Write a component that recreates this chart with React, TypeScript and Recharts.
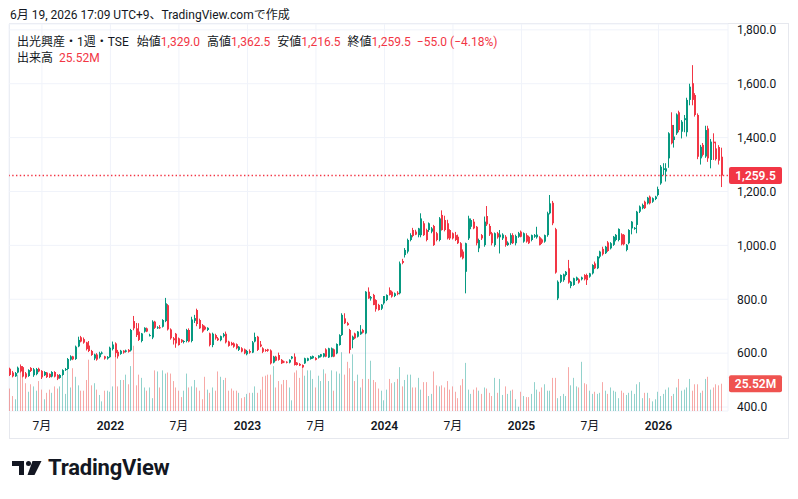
import { ComposedChart, Bar, XAxis, YAxis, CartesianGrid, ReferenceLine } from 'recharts';

// one row per week: open, high, low, close, volume (millions)
type Week = [number, number, number, number, number];

const WEEKS_2021: Week[] = [
  [542, 546, 515, 519, 21], [528, 534, 510, 514, 14], [514, 530, 512, 526, 11], [528, 550, 525, 546, 34],
  [552, 558, 528, 532, 38], [548, 552, 510, 513, 32], [525, 530, 505, 510, 26], [515, 540, 512, 537, 18],
  [545, 548, 530, 534, 25], [518, 545, 512, 540, 23], [522, 545, 518, 541, 19], [542, 546, 529, 532, 28],
  [534, 537, 504, 510, 20], [518, 533, 515, 530, 11], [528, 530, 508, 511, 17], [523, 525, 508, 511, 20],
  [513, 533, 510, 530, 17], [530, 533, 510, 513, 23], [519, 522, 500, 505, 21], [508, 522, 505, 519, 23],
  [519, 540, 516, 537, 38], [537, 545, 534, 541, 16], [541, 582, 538, 578, 40], [576, 592, 572, 588, 22],
  [588, 590, 574, 577, 40], [578, 628, 575, 624, 32], [625, 661, 622, 649, 24], [659, 664, 640, 643, 19],
  [652, 658, 635, 639, 19], [640, 642, 610, 615, 29], [628, 645, 604, 608, 48], [608, 612, 590, 593, 24],
  [580, 598, 574, 595, 26], [595, 600, 572, 576, 20], [585, 605, 580, 600, 15], [598, 606, 595, 602, 9],
  [588, 590, 576, 580, 19], [580, 589, 576, 586, 19],
];

const WEEKS_2022: Week[] = [
  [585, 624, 583, 620, 18], [615, 643, 610, 632, 23], [636, 640, 585, 600, 55], [605, 612, 580, 588, 23],
  [597, 612, 594, 609, 29], [609, 611, 598, 602, 29], [605, 613, 602, 610, 34], [612, 615, 602, 605, 25],
  [610, 690, 606, 686, 42], [719, 738, 685, 692, 61], [692, 712, 660, 667, 24], [680, 711, 645, 649, 34],
  [645, 675, 640, 673, 31], [680, 696, 676, 694, 22], [692, 695, 678, 680, 19], [667, 672, 662, 667, 22],
  [658, 722, 652, 717, 12], [717, 720, 690, 694, 38], [694, 700, 690, 696, 37], [696, 704, 690, 694, 22],
  [698, 726, 695, 723, 38], [719, 805, 715, 785, 35], [778, 782, 684, 688, 36], [688, 692, 650, 655, 35],
  [655, 660, 632, 648, 28], [672, 675, 620, 636, 22], [655, 658, 628, 630, 19], [650, 652, 638, 642, 13],
  [642, 648, 636, 645, 19], [645, 690, 640, 686, 35], [686, 692, 640, 643, 22], [645, 735, 640, 725, 23],
  [720, 742, 712, 730, 29], [760, 765, 700, 708, 22], [723, 728, 690, 692, 19], [704, 708, 676, 680, 11],
  [698, 702, 685, 688, 32], [686, 696, 682, 694, 20], [673, 676, 625, 630, 17], [630, 676, 622, 672, 22],
  [667, 672, 650, 655, 19], [655, 660, 645, 648, 37], [648, 665, 644, 663, 32], [663, 675, 658, 670, 29],
  [672, 680, 636, 640, 31], [643, 646, 624, 627, 19], [638, 642, 628, 630, 21], [636, 640, 620, 624, 19],
  [633, 636, 614, 618, 19], [612, 626, 608, 624, 17], [618, 622, 603, 606, 12], [614, 617, 596, 599, 13],
];

const WEEKS_2023: Week[] = [
  [596, 612, 592, 608, 16], [608, 614, 598, 602, 17], [602, 645, 600, 640, 17], [643, 676, 640, 660, 23],
  [661, 664, 608, 612, 17], [632, 645, 622, 625, 20], [618, 622, 600, 605, 32], [612, 615, 605, 608, 33],
  [614, 616, 605, 609, 34], [610, 614, 558, 562, 34], [565, 590, 562, 587, 42], [587, 590, 570, 572, 22],
  [593, 602, 572, 575, 28], [575, 578, 560, 562, 25], [569, 572, 563, 567, 29], [568, 570, 562, 565, 29],
  [565, 577, 562, 575, 22], [580, 589, 577, 587, 10], [587, 599, 554, 556, 36], [565, 567, 554, 556, 38],
  [560, 563, 552, 554, 31], [556, 558, 545, 547, 42], [562, 583, 560, 581, 33], [572, 583, 570, 581, 38],
  [578, 589, 576, 587, 38], [581, 591, 579, 589, 30], [582, 585, 573, 575, 22], [583, 592, 580, 591, 33],
  [587, 597, 584, 596, 28], [587, 600, 584, 599, 39], [614, 618, 585, 587, 35], [584, 620, 582, 618, 28],
  [587, 621, 585, 618, 38], [614, 617, 585, 587, 19], [599, 636, 596, 634, 37], [630, 670, 628, 667, 35],
  [667, 748, 664, 742, 55], [729, 748, 708, 711, 34], [711, 716, 702, 704, 46], [686, 690, 599, 612, 40],
  [649, 665, 618, 661, 53], [673, 676, 652, 655, 28], [661, 682, 658, 680, 34], [670, 704, 668, 680, 22],
  [686, 690, 673, 676, 30], [673, 830, 670, 828, 73], [828, 844, 802, 803, 30], [803, 812, 795, 808, 47],
  [816, 820, 778, 779, 29], [797, 800, 754, 763, 27], [779, 783, 758, 760, 21], [765, 782, 760, 780, 19],
];

const WEEKS_2024: Week[] = [
  [785, 812, 780, 812, 10], [797, 818, 793, 816, 20], [834, 844, 814, 816, 30], [828, 832, 806, 810, 26],
  [812, 825, 808, 822, 27], [824, 830, 815, 819, 30], [822, 940, 818, 933, 41], [942, 950, 930, 935, 23],
  [964, 990, 955, 983, 29], [977, 1025, 970, 1020, 34], [1020, 1045, 1015, 1038, 34], [1057, 1065, 1030, 1035, 22],
  [1051, 1058, 1038, 1040, 22], [1038, 1065, 1030, 1063, 31], [1038, 1119, 1030, 1100, 20], [1082, 1090, 1035, 1038, 27],
  [1057, 1062, 1015, 1020, 27], [1057, 1085, 1050, 1082, 14], [1051, 1068, 1045, 1063, 16], [1072, 1076, 998, 1001, 37],
  [1045, 1050, 1015, 1020, 24], [1020, 1105, 1015, 1100, 23], [1113, 1130, 1055, 1057, 24], [1094, 1110, 1052, 1057, 22],
  [1082, 1095, 1022, 1026, 28], [1057, 1060, 1020, 1026, 20], [1045, 1048, 1022, 1026, 23], [1038, 1050, 1016, 1020, 18],
  [1032, 1040, 1005, 1008, 12], [1008, 1012, 955, 958, 24], [977, 985, 948, 952, 30], [902, 1010, 822, 1008, 45],
  [1026, 1110, 1020, 1100, 20], [1069, 1100, 1060, 1094, 16], [1088, 1098, 1060, 1063, 20], [1069, 1072, 1000, 1008, 22],
  [989, 1025, 975, 1020, 19], [1038, 1042, 1020, 1026, 16], [1001, 1107, 995, 1088, 22], [1109, 1146, 1072, 1078, 21],
  [1072, 1080, 1035, 1041, 17], [1045, 1050, 1000, 1008, 14], [1001, 1048, 995, 1045, 31], [1045, 1050, 1025, 1030, 17],
  [1030, 1057, 970, 1040, 30], [1026, 1045, 1020, 1040, 15], [1032, 1038, 995, 1001, 23], [1001, 1015, 998, 1010, 16],
  [1008, 1045, 1002, 1038, 19], [1038, 1045, 1005, 1008, 20], [1008, 1040, 1000, 1035, 11], [1032, 1050, 1028, 1045, 4],
];

const WEEKS_2025: Week[] = [
  [1051, 1055, 1030, 1032, 18], [1014, 1048, 1010, 1045, 14], [1038, 1045, 1010, 1014, 13], [1032, 1036, 1005, 1008, 13],
  [1020, 1040, 1015, 1038, 16], [1032, 1042, 1028, 1038, 27], [1030, 1069, 1025, 1040, 20], [1030, 1034, 1000, 1001, 18],
  [1022, 1026, 1005, 1010, 22], [1014, 1040, 1010, 1038, 25], [1038, 1125, 1032, 1119, 19], [1119, 1187, 1115, 1156, 19],
  [1158, 1165, 1075, 1082, 31], [1060, 1065, 895, 899, 31], [803, 870, 797, 865, 12], [865, 892, 860, 890, 14],
  [871, 895, 865, 892, 16], [890, 905, 885, 902, 14], [915, 946, 858, 862, 41], [849, 868, 841, 865, 24],
  [853, 880, 850, 878, 31], [871, 884, 868, 881, 23], [874, 878, 858, 862, 22], [874, 884, 870, 881, 46],
  [890, 893, 870, 874, 26], [890, 895, 853, 871, 25], [884, 898, 880, 896, 19], [896, 930, 892, 927, 16],
  [933, 940, 912, 915, 18], [915, 960, 912, 958, 16], [958, 980, 952, 977, 17], [987, 995, 962, 967, 27],
  [971, 998, 968, 995, 19], [1011, 1016, 976, 979, 16], [989, 1012, 985, 1008, 22], [1002, 1035, 998, 1032, 19],
  [1020, 1042, 1015, 1039, 18], [1020, 1063, 1015, 1061, 12], [1041, 1045, 1000, 1004, 19], [1039, 1042, 1000, 1004, 17],
  [983, 1005, 978, 1002, 15], [1008, 1060, 1004, 1057, 17], [1063, 1090, 1041, 1088, 19], [1061, 1068, 1058, 1065, 16],
  [1076, 1128, 1045, 1125, 25], [1125, 1148, 1120, 1144, 27], [1138, 1155, 1134, 1150, 12], [1162, 1166, 1135, 1138, 17],
  [1156, 1180, 1152, 1177, 17], [1181, 1185, 1152, 1156, 12], [1162, 1178, 1158, 1175, 9], [1172, 1184, 1168, 1181, 11],
];

const WEEKS_2026: Week[] = [
  [1187, 1218, 1182, 1209, 18], [1230, 1298, 1225, 1292, 14], [1280, 1305, 1261, 1286, 16], [1274, 1305, 1237, 1286, 20],
  [1323, 1420, 1288, 1416, 22], [1447, 1494, 1375, 1379, 14], [1391, 1447, 1363, 1404, 16], [1416, 1490, 1410, 1486, 22],
  [1494, 1500, 1420, 1428, 30], [1422, 1465, 1397, 1459, 19], [1465, 1484, 1420, 1472, 20], [1420, 1548, 1404, 1540, 22],
  [1540, 1600, 1520, 1589, 30], [1602, 1669, 1520, 1540, 19], [1558, 1565, 1478, 1484, 25], [1484, 1490, 1320, 1329, 25],
  [1323, 1373, 1300, 1366, 17], [1373, 1380, 1330, 1336, 19], [1330, 1444, 1325, 1428, 30], [1434, 1444, 1310, 1323, 32],
  [1317, 1395, 1286, 1385, 20], [1385, 1416, 1317, 1379, 22], [1360, 1385, 1315, 1320, 25], [1365, 1372, 1300, 1314.5, 24],
  [1329, 1362.5, 1216.5, 1259.5, 25.52],
];

// week index of each time-axis label
const TICK_WEEKS = [12, 38, 64, 90, 116, 142, 168, 194, 220, 246];
const TICK_LABELS = ['7月', '2022', '7月', '2023', '7月', '2024', '7月', '2025', '7月', '2026'];
const PRICE_TICKS = [400, 600, 800, 1000, 1200, 1400, 1600, 1800];

const UP = '#089981';
const DOWN = '#F23645';
const UP_VOL = 'rgba(38,166,154,0.5)';
const DOWN_VOL = 'rgba(239,83,80,0.5)';
const TEXT = '#131722';
const FONT = 'Roboto, "Noto Sans CJK JP", sans-serif';

const rows = [...WEEKS_2021, ...WEEKS_2022, ...WEEKS_2023, ...WEEKS_2024, ...WEEKS_2025, ...WEEKS_2026].map(
  ([o, h, l, c, v], i) => ({ i, o, h, l, c, v, range: [l, h] })
);

const last = rows[rows.length - 1];
const prev = rows[rows.length - 2];
const change = last.c - prev.c;
const changePct = (change / prev.c) * 100;

const fmtPrice = (v: number) => v.toLocaleString('en-US', { minimumFractionDigits: 1, maximumFractionDigits: 1 });
const fmtSigned = (v: number, digits: number) => (v < 0 ? '\u2212' : '+') + Math.abs(v).toFixed(digits);

function CandleShape(props: any) {
  const { x, y, width, height, payload } = props;
  if (!payload) return null;
  const { o, h, l, c } = payload;
  const color = c >= o ? UP : DOWN;
  const toY = (v: number) => (h === l ? y : y + ((h - v) / (h - l)) * height);
  const left = Math.round(x + width / 2 - 1);
  const top = toY(Math.max(o, c));
  const bottom = toY(Math.min(o, c));
  return (
    <g>
      <rect x={left} y={y} width={1} height={Math.max(height, 1)} fill={color} />
      <rect x={left} y={top} width={2} height={Math.max(bottom - top, 1)} fill={color} />
    </g>
  );
}

function VolumeShape(props: any) {
  const { x, y, width, height, payload } = props;
  if (!payload) return null;
  const left = Math.round(x + width / 2 - 1);
  return <rect x={left} y={y} width={1} height={height} fill={payload.c >= payload.o ? UP_VOL : DOWN_VOL} />;
}

function TimeTick(props: any) {
  const { x, y, payload } = props;
  const label = TICK_LABELS[TICK_WEEKS.indexOf(Number(payload.value))];
  if (!label) return null;
  return (
    <text x={x} y={y} dy="0.71em" textAnchor="middle" fontSize={12} fontWeight={label.length === 4 ? 600 : 400} fill={TEXT}>
      {label}
    </text>
  );
}

function AxisTag(props: any) {
  const { viewBox, text, fill } = props;
  if (!viewBox) return null;
  const x = viewBox.x + viewBox.width + 1;
  const y = viewBox.y;
  return (
    <g>
      <rect x={x} y={y - 8.5} width={53} height={17} rx={2} fill={fill} />
      <text x={x + 26.5} y={y} dy="0.36em" textAnchor="middle" fontSize={12} fontWeight={600} fill="#ffffff">
        {text}
      </text>
    </g>
  );
}

export default function App() {
  const red = { color: DOWN };
  return (
    <div style={{ position: 'absolute', left: 0, top: 0, width: 798, height: 499, background: '#ffffff', fontFamily: FONT, color: TEXT, overflow: 'hidden' }}>
      <div style={{ position: 'absolute', left: 9, top: 23, width: 778, height: 414, border: '1px solid #e6e8ee' }} />
      <ComposedChart width={798} height={499} data={rows} margin={{ top: 24, right: 9, bottom: 58, left: 9 }} barCategoryGap="10%">
        <CartesianGrid xAxisId="main" yAxisId="price" stroke="#f0f3fa" />
        <XAxis
          xAxisId="main"
          dataKey="i"
          type="category"
          ticks={TICK_WEEKS}
          interval={0}
          tick={<TimeTick />}
          axisLine={false}
          tickLine={false}
          tickMargin={4}
          height={30}
          padding={{ left: 0, right: 5 }}
        />
        <XAxis xAxisId="vol" dataKey="i" type="category" hide padding={{ left: 0, right: 5 }} />
        <YAxis
          yAxisId="price"
          orientation="right"
          type="number"
          domain={[385.2, 1821.7]}
          allowDataOverflow
          ticks={PRICE_TICKS}
          interval={0}
          width={61}
          axisLine={false}
          tickLine={false}
          tickMargin={3}
          tick={{ fill: TEXT, fontSize: 12 }}
          tickFormatter={fmtPrice}
        />
        <YAxis yAxisId="vol" type="number" hide domain={[0, 362]} allowDataOverflow />
        <Bar xAxisId="vol" yAxisId="vol" dataKey="v" shape={<VolumeShape />} isAnimationActive={false} />
        <Bar xAxisId="main" yAxisId="price" dataKey="range" shape={<CandleShape />} isAnimationActive={false} />
        <ReferenceLine
          xAxisId="main"
          yAxisId="price"
          y={last.c}
          stroke={DOWN}
          strokeWidth={1.4}
          strokeDasharray="1.4 2.4"
          label={<AxisTag text={fmtPrice(last.c)} fill={DOWN} />}
        />
        <ReferenceLine
          xAxisId="vol"
          yAxisId="vol"
          y={last.v}
          stroke="none"
          label={<AxisTag text={`${last.v.toFixed(2)}M`} fill="#ef5350" />}
        />
      </ComposedChart>

      <div style={{ position: 'absolute', left: 10, top: 7, fontSize: 12, lineHeight: '16px', whiteSpace: 'nowrap' }}>
        6月 19, 2026 17:09 UTC+9、TradingView.comで作成
      </div>
      <div style={{ position: 'absolute', left: 17, top: 34, fontSize: 12, lineHeight: '16px', whiteSpace: 'nowrap' }}>
        <span>出光興産・1週・TSE</span>
        <span style={{ marginLeft: 8 }}>始値</span><span style={red}>{fmtPrice(last.o)}</span>
        <span style={{ marginLeft: 7 }}>高値</span><span style={red}>{fmtPrice(last.h)}</span>
        <span style={{ marginLeft: 7 }}>安値</span><span style={red}>{fmtPrice(last.l)}</span>
        <span style={{ marginLeft: 7 }}>終値</span><span style={red}>{fmtPrice(last.c)}</span>
        <span style={{ ...red, marginLeft: 6 }}>
          {fmtSigned(change, 1)} ({fmtSigned(changePct, 2)}%)
        </span>
      </div>
      <div style={{ position: 'absolute', left: 17, top: 50, fontSize: 12, lineHeight: '16px', whiteSpace: 'nowrap' }}>
        <span>出来高</span>
        <span style={{ ...red, marginLeft: 6 }}>{last.v.toFixed(2)}M</span>
      </div>

      <svg style={{ position: 'absolute', left: 0, top: 450 }} width={200} height={40}>
        <rect x={12} y={11} width={12} height={5} fill={TEXT} />
        <rect x={19} y={11} width={5} height={14} fill={TEXT} />
        <circle cx={28.5} cy={13.5} r={2.5} fill={TEXT} />
        <polygon points="32.5,11 41.5,11 34.5,25 27.5,25" fill={TEXT} />
        <text x={48} y={25} fontSize={22} fontWeight={700} fill={TEXT} letterSpacing={-0.2}>
          TradingView
        </text>
      </svg>
    </div>
  );
}
